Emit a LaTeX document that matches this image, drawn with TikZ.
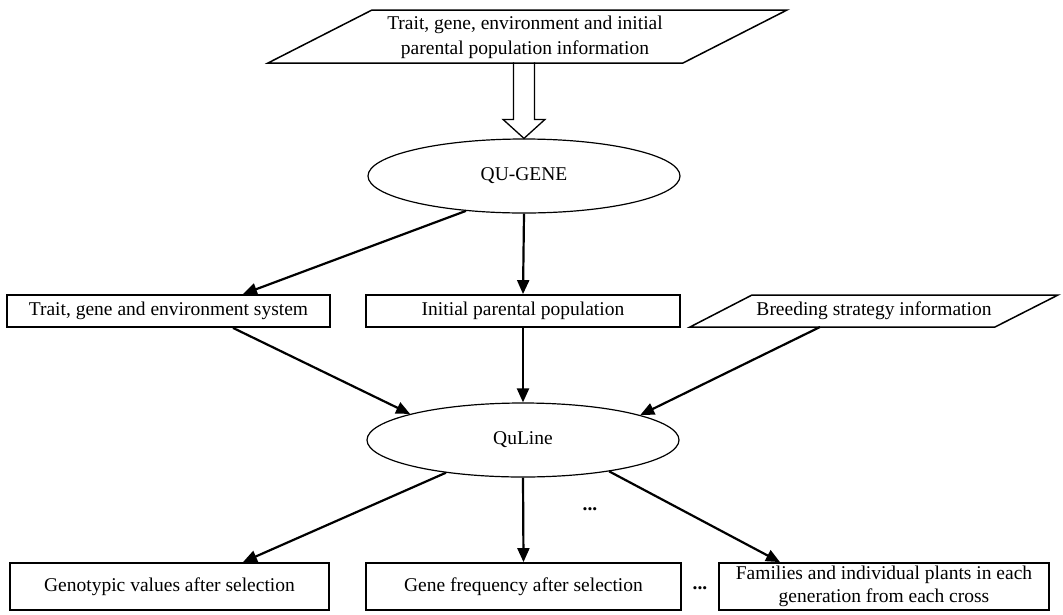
\documentclass[tikz,border=0pt]{standalone}
\usepackage{fontspec}
\setmainfont{Liberation Serif}
\usetikzlibrary{shapes.geometric,arrows.meta,calc}
\begin{document}
\begin{tikzpicture}[x=1pt,y=-1pt,
 txt/.style={font=\fontsize{19.5}{25}\selectfont,align=center},
 box/.style={draw,line width=1.8pt,rectangle,inner sep=0pt,txt},
 oval/.style={draw,line width=1.2pt,ellipse,minimum width=312pt,minimum height=74pt,inner sep=0pt,txt},
 arr/.style={line width=2.2pt,-{Triangle[length=14pt,width=12pt]}},
 para/.style={line width=1.5pt,line join=miter}]
\useasboundingbox (0,0) rectangle (1063,614);
% top input
\coordinate (t1) at (268,63);
\coordinate (t2) at (683,63);
\coordinate (t3) at (787,10);
\coordinate (t4) at (372,10);
\draw[para] (t1)--(t2)--(t3)--(t4)--cycle;
\node[txt] (top) at (525,37) {Trait, gene, environment and initial\\parental population information};
% QU-GENE
\node[oval] (qg) at (524,176) {QU-GENE};
\draw[line width=1.3pt,line join=miter] ($(qg.north)+(-10.5,-76)$) -- ($(qg.north)+(-10.5,-19)$) -- ($(qg.north)+(-21,-19)$) -- (qg.north) -- ($(qg.north)+(21,-19)$) -- ($(qg.north)+(10.5,-19)$) -- ($(qg.north)+(10.5,-76)$);
% middle row
\node[box,minimum width=323pt,minimum height=32pt] (b1) at (168.5,311) {Trait, gene and environment system};
\node[box,minimum width=314pt,minimum height=32pt] (b2) at (523,311) {Initial parental population};
\coordinate (p1) at (690,327);
\coordinate (p2) at (995,327);
\coordinate (p3) at (1058,295);
\coordinate (p4) at (752,295);
\draw[para] (p1)--(p2)--(p3)--(p4)--cycle;
\node[txt] (bs) at (874,311) {Breeding strategy information};
\coordinate (bsout) at (820,327);
% QuLine
\node[oval] (ql) at (523,440) {QuLine};
% bottom row
\node[box,minimum width=319pt,minimum height=47pt] (c1) at (169.5,586.5) {Genotypic values after selection};
\node[box,minimum width=315pt,minimum height=47pt] (c2) at (523.5,586.5) {Gene frequency after selection};
\node[box,minimum width=330pt,minimum height=47pt,font=\fontsize{19.5}{23.5}\selectfont] (c3) at (884,586.5) {Families and individual plants in each\\generation from each cross};
\node[txt,font=\bfseries\fontsize{19.5}{25}\selectfont] (d1) at (590,509) {...};
\node[txt,font=\bfseries\fontsize{19.5}{25}\selectfont] (d2) at (700,588) {...};
% connectors
\draw[arr] (qg.211.6) -- ([xshift=74.5pt]b1.north);
\draw[arr] (qg.south) -- (b2.north);
\draw[arr] ([xshift=64.5pt]b1.south) -- (ql.167);
\draw[arr] (b2.south) -- (ql.north);
\draw[arr] (bsout) -- (ql.12);
\draw[arr] (ql.203) -- ([xshift=73.5pt]c1.north);
\draw[arr] (ql.south) -- (c2.north);
\draw[arr] (ql.-20) -- ([xshift=-104pt]c3.north);
\end{tikzpicture}
\end{document}
